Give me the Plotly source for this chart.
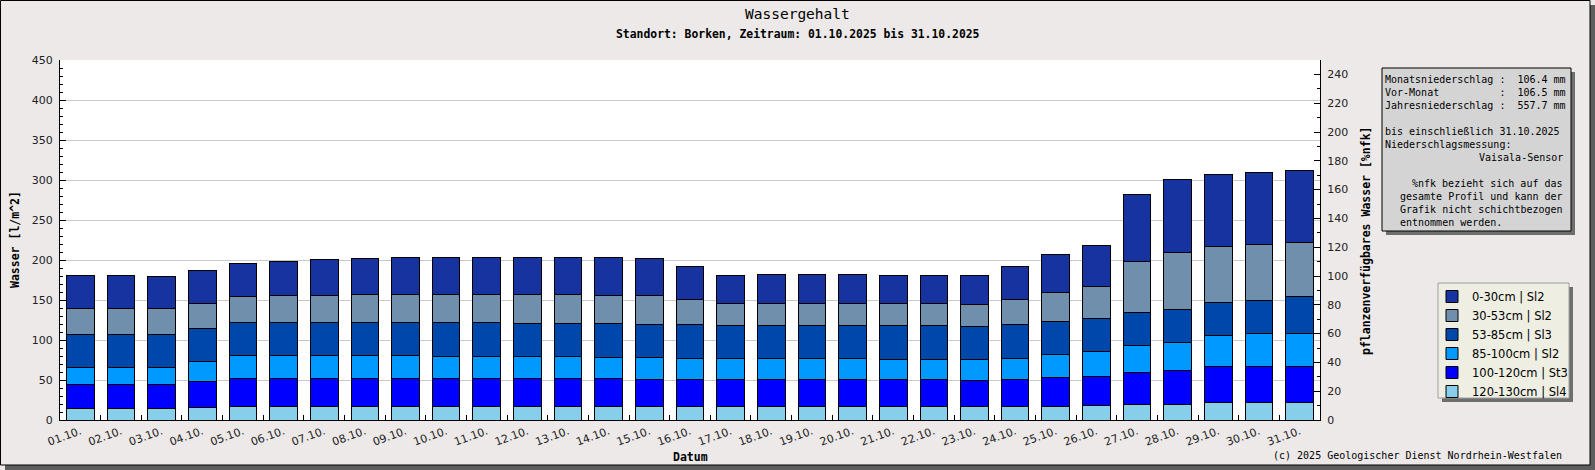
import plotly.graph_objects as go

# Datum-Kategorien
tage = ["%02d.10." % d for d in range(1, 32)]

# Wassergehalt je Schicht [l/m^2]
s_0_30 = [41.6, 41.6, 40.4, 41.3, 41.2, 42.5, 45.0, 45.0, 46.2, 46.2, 46.2, 46.2, 46.2, 47.5, 46.3, 41.3,
          35.0, 36.3, 36.3, 36.3, 35.0, 35.0, 36.2, 41.3, 47.5, 51.2, 84.2, 91.2, 90.0, 90.0, 90.0]
s_30_53 = [32.1, 32.1, 32.1, 31.2, 32.5, 33.7, 33.7, 35.0, 35.0, 35.0, 35.0, 36.3, 36.3, 35.0, 36.2, 31.2,
           27.5, 27.5, 27.5, 27.5, 27.5, 27.5, 27.5, 31.2, 36.3, 40.0, 63.7, 71.3, 70.0, 70.0, 67.5]
s_53_85 = [41.3, 41.3, 41.3, 41.3, 41.3, 41.3, 41.3, 41.3, 41.3, 42.5, 42.5, 41.2, 41.2, 42.5, 41.3, 42.5,
           41.2, 41.2, 41.2, 41.2, 42.5, 42.5, 41.3, 42.9, 41.2, 41.3, 41.3, 41.2, 41.3, 41.3, 46.3]
s_85_100 = [21.2, 21.2, 21.2, 25.0, 28.7, 28.7, 28.7, 28.7, 28.7, 27.5, 27.5, 27.5, 27.5, 26.2, 27.5, 26.3,
            26.3, 26.3, 26.3, 26.3, 25.0, 25.0, 25.8, 25.9, 28.8, 31.2, 34.5, 35.8, 39.5, 41.2, 41.2]
s_100_120 = [30.4, 30.4, 30.4, 32.9, 35.4, 35.4, 35.4, 35.4, 35.4, 35.4, 35.4, 35.4, 35.4, 35.4, 34.1, 34.1,
             34.1, 34.1, 34.1, 34.1, 34.1, 34.1, 33.3, 34.1, 36.6, 36.3, 39.2, 41.7, 44.2, 45.0, 45.0]
s_120_130 = [14.2, 14.2, 14.2, 15.4, 16.7, 16.7, 16.7, 16.7, 16.7, 16.7, 16.7, 16.7, 16.7, 16.7, 16.7, 16.7,
             16.7, 16.7, 16.7, 16.7, 16.7, 16.7, 16.7, 16.7, 16.7, 18.3, 19.6, 19.6, 22.1, 22.1, 22.1]

# von unten nach oben gestapelt
schichten = [
    ("120-130cm | Sl4", s_120_130, "#87ceeb"),
    ("100-120cm | St3", s_100_120, "#0000ff"),
    ("85-100cm | Sl2", s_85_100, "#0099ff"),
    ("53-85cm | Sl3", s_53_85, "#0047ab"),
    ("30-53cm | Sl2", s_30_53, "#6f8fac"),
    ("0-30cm | Sl2", s_0_30, "#1633a0"),
]

info_zeilen = [
    ("Monatsniederschlag :  106.4 mm", "l"),
    ("Vor-Monat          :  106.5 mm", "l"),
    ("Jahresniederschlag :  557.7 mm", "l"),
    ("", "l"),
    ("bis einschließlich 31.10.2025", "l"),
    ("Niederschlagsmessung:", "l"),
    ("Vaisala-Sensor", "r"),
    ("", "l"),
    ("%nfk bezieht sich auf das", "r"),
    ("gesamte Profil und kann der", "r"),
    ("Grafik nicht schichtbezogen", "r"),
    ("entnommen werden.", "g"),
]

W, H = 1595, 470
L, R, T, B = 60, 1320, 60, 420
MONO = "DejaVu Sans Mono"
SANS = "DejaVu Sans"


def px(x):
    return (x - L) / (R - L)


def py(y):
    return (B - y) / (B - T)


fig = go.Figure()
for name, vals, col in schichten:
    fig.add_trace(go.Bar(x=tage, y=vals, name=name, marker=dict(color=col, line=dict(color="black", width=1))))
# leere Spur, damit die rechte %nfk-Achse gezeichnet wird
fig.add_trace(go.Scatter(x=[], y=[], yaxis="y2", showlegend=False, hoverinfo="skip"))

shapes = []
annos = []


def rect(x0, y0, x1, y1, fill, line=None):
    shapes.append(dict(type="rect", xref="paper", yref="paper", x0=px(x0), x1=px(x1), y0=py(y0), y1=py(y1),
                       fillcolor=fill, line=dict(color=line or fill, width=1 if line else 0), layer="above"))


def text(x, y, s, size=10, family=MONO, anchor="left", angle=0, color="black"):
    annos.append(dict(xref="paper", yref="paper", x=px(x), y=py(y), text=s, showarrow=False, xanchor=anchor,
                      yanchor="middle", textangle=angle, borderpad=0, font=dict(family=family, size=size, color=color)))


# Rahmen mit Schatten
rect(1590, 5, 1595, 470, "#5e5e5e")
rect(5, 465, 1595, 470, "#5e5e5e")
shapes.append(dict(type="rect", xref="paper", yref="paper", x0=px(0.5), x1=px(1590), y0=py(0.5), y1=py(465),
                   line=dict(color="black", width=1), layer="above"))

# Infobox
rect(1386, 72, 1575, 235, "#6e6e6e")
rect(1382, 68, 1571, 231, "#d4d4d4", "black")
for i, (s, a) in enumerate(info_zeilen):
    if not s:
        continue
    y = 79.5 + 13 * i
    if a == "l":
        text(1384, y, s.replace(" ", "\u00a0"))
    elif a == "r":
        text(1564, y, s, anchor="right")
    else:
        text(1564, y, s.ljust(27).replace(" ", "\u00a0"), anchor="right")

# Legendenbox
rect(1442, 287, 1573, 402, "#6e6e6e")
rect(1438, 283, 1569, 398, "#eeeee2", "#a0a0a0")

# Titel
text(797.5, 14, "Wassergehalt", size=14.5, anchor="center")
text(797.5, 34, "<b>Standort: Borken, Zeitraum: 01.10.2025 bis 31.10.2025</b>", size=11.4, anchor="center")
text(15, 240, "<b>Wasser [l/m^2]</b>", size=11.5, anchor="center", angle=-90)
text(1366, 241, "<b>pflanzenverfügbares Wasser [%nfk]</b>", size=11.5, anchor="center", angle=-90)
text(690, 457, "<b>Datum</b>", size=11.5, anchor="center")
text(1563, 455, "(c) 2025 Geologischer Dienst Nordrhein-Westfalen", anchor="right")

fig.update_layout(
    width=W, height=H,
    margin=dict(l=L, r=W - R, t=T, b=H - B, pad=0),
    paper_bgcolor="#ece9e8", plot_bgcolor="white",
    barmode="stack", bargap=0.32,
    showlegend=True,
    legend=dict(x=px(1432), y=py(282), xanchor="left", yanchor="top", traceorder="reversed",
                bgcolor="rgba(0,0,0,0)", borderwidth=0, tracegroupgap=0,
                font=dict(family=SANS, size=11.5, color="black")),
    shapes=shapes, annotations=annos,
    xaxis=dict(type="category", tickson="boundaries", ticks="inside", ticklen=5, tickcolor="black",
               tickangle=-20, showgrid=False, showline=True, linecolor="black", linewidth=1,
               tickfont=dict(family=SANS, size=11, color="#222")),
    yaxis=dict(range=[0, 450], dtick=50, ticks="inside", ticklen=6, tickcolor="black", showline=True,
               linecolor="black", linewidth=1, gridcolor="#c8c8c8", zeroline=False, ticklabelstandoff=4,
               minor=dict(dtick=10, ticks="inside", ticklen=3, tickcolor="black", showgrid=False),
               tickfont=dict(family=SANS, size=11, color="#222")),
    yaxis2=dict(range=[0, 250], dtick=20, overlaying="y", side="right", anchor="x", ticks="inside", ticklen=6,
                tickcolor="black", showline=True, linecolor="black", linewidth=1, showgrid=False, zeroline=False,
                ticklabelstandoff=4,
                minor=dict(dtick=10, ticks="inside", ticklen=3, tickcolor="black", showgrid=False),
                tickfont=dict(family=SANS, size=11, color="#222")),
)

# Seitenrand des Browsers entfernen, damit die Grafik bündig sitzt
fig.write_html("out.html", config={"displayModeBar": False},
               post_script="document.body.style.margin='0';")
